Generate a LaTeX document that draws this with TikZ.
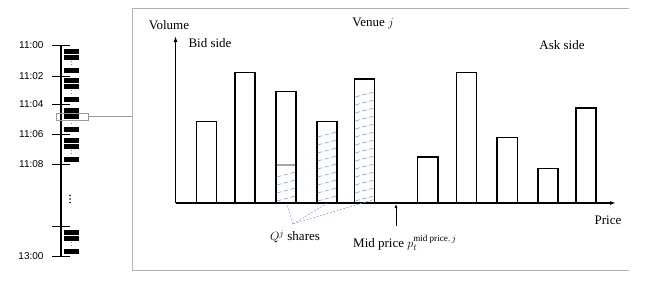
\documentclass[tikz,border=0pt]{standalone}
\usepackage{amsmath}
\usepackage{fontspec}
\setmainfont{Liberation Serif}
\newfontfamily\clockfont{Liberation Sans}
\usepackage{tikz}
\usetikzlibrary{
  arrows.meta,
  positioning,
  calc
}

\begin{document}
\begin{tikzpicture}[x=1pt,y=-1pt,
  bar/.style={draw,line width=1.2pt},
  hatch/.style={draw={rgb,255:red,125;green,158;blue,228},line width=0.6pt,dash pattern=on 5pt off 2pt},
  frameline/.style={draw=gray!60,line width=0.8pt},
  lbl/.style={font=\fontsize{13}{15}\selectfont,inner sep=0pt},
  clocklbl/.style={font=\clockfont\fontsize{10}{12}\selectfont,anchor=east,inner sep=0pt}]
  \useasboundingbox (0,0) rectangle (654,282);
  % Time line
  \draw[line width=1.2pt] (61,45) -- (61,256);
  \foreach \t/\y in {11:00/45,11:02/76,11:04/104,11:06/134,11:08/164,13:00/256}
    \draw[line width=1pt] (52,\y) -- (70,\y) node[clocklbl] (t\y) at (44,\y) {\t};
  \draw[line width=1pt] (52,226) -- (70,226);
  % Orders
  \foreach \y in {49,55,68,78,84,97,108,114,127,138,144,157,230,236,249}
    \fill (63.5,\y) rectangle (78.5,\y+4.5);
  \foreach \a/\b in {59.5/68,88.5/97,118.5/127,148.5/157,240.5/249}
    \draw[gray,dotted,line width=1pt] (71,\a+1.5) -- (71,\b-1.5);
  \foreach \y in {195.5,199,202.5}
    \fill (70,\y) circle (0.9);
  % Snapshot
  \node[draw=gray!80,minimum width=32pt,minimum height=7pt,inner sep=0pt] (snap) at (72,116.5) {};
  \coordinate (frameL) at (132,116.5);
  \draw[gray!80,line width=0.8pt] (snap.east) -- (frameL);
  % Venue frame
  \draw[frameline] (629,8) -- (132,8) -- (132,270) -- (629,270);
  % Axes
  \coordinate (O) at (175.5,203);
  \draw[-{Latex[length=6pt,width=4pt]},line width=1.2pt] (O) -- (175.5,36);
  \draw[-{Latex[length=6pt,width=4pt]},line width=1.2pt] (O) -- (616,203);
  % Bid and ask bars
  \foreach \xl/\xr/\h in {196.5/216.5/121.5,235/255/72.5,276/296/91.5,317/337/121.5,354.5/374.5/79,
                          417.5/438/157,456.5/476.5/72.5,497/517.5/137.5,538/558/168.5,576/596/108}
    \draw[bar] (\xl,203) rectangle (\xr,\h);
  % Hatched shares
  \draw[gray!70,line width=1.2pt] (276.6,165) -- (295.4,165);
  \foreach \y in {177,185,193,201}
    \draw[hatch] (276.6,\y) -- (295.4,\y-5);
  \foreach \y in {137,145,...,201}
    \draw[hatch] (317.6,\y) -- (336.4,\y-5);
  \foreach \y in {97,105,...,201}
    \draw[hatch] (355.1,\y) -- (373.9,\y-5);
  % Labels
  \node[lbl] (vol) at (169,25) {Volume};
  \node[lbl] (venue) at (373,23) {Venue $j$};
  \node[lbl] (bid) at (210,43) {Bid side};
  \node[lbl] (ask) at (562,45) {Ask side};
  \node[lbl] (price) at (608,220) {Price};
  \node[lbl] (Q) at (295,237) {$Q^j$ shares};
  \node[lbl] (mid) at (405,243) {Mid price $p_t^{\text{mid price},\,j}$};
  % Share pointers
  \coordinate (qhub) at (293,224);
  \coordinate (b3) at (286.7,203.5);
  \coordinate (b4) at (326.7,203.5);
  \coordinate (b5) at (374,199.5);
  \foreach \b in {b3,b4,b5}
    \draw[hatch,dash pattern=on 2pt off 1.5pt,line width=0.5pt] (qhub) -- (\b);
  % Mid price marker
  \coordinate (midtail) at (396,226);
  \coordinate (midtip) at (396,204);
  \draw[-{Latex[length=4pt,width=3pt]},line width=0.7pt] (midtail) -- (midtip);
\end{tikzpicture}
\end{document}
